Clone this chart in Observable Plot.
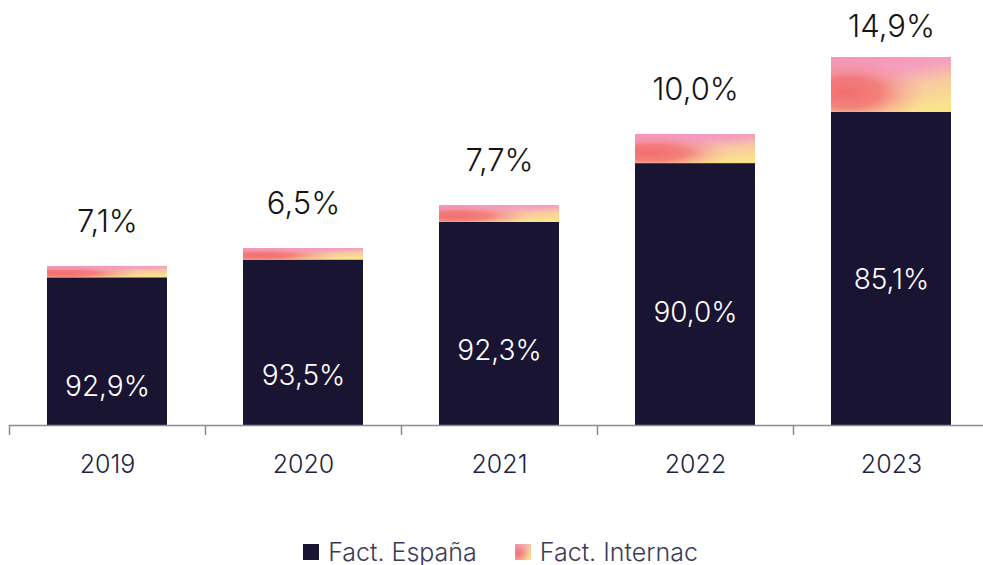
<!DOCTYPE html>
<html>
<head>
<meta charset="utf-8">
<script src="https://cdn.jsdelivr.net/npm/d3@7"></script>
<script src="https://cdn.jsdelivr.net/npm/@observablehq/plot@0.6"></script>
<style>
  html, body { margin: 0; padding: 0; background: #fff; overflow: hidden; }
  body { font-family: Inter, "Noto Sans", sans-serif; width: 983px; height: 565px; }
  #chart svg { display: block; }
  #legend { display: flex; justify-content: center; align-items: center; height: 35px;
            font-size: 25px; font-weight: 350; color: #3d3a5a; padding-left: 18px; position: relative; top: 4px; }
  #legend .item { display: flex; align-items: center; margin: 0 19px; }
  #legend .sw { width: 16px; height: 16px; margin-right: 9px; display: inline-block; }
</style>
</head>
<body>
<div id="chart"></div>
<div id="legend"></div>
<script>
// ---- data ----
const years = ["2019", "2020", "2021", "2022", "2023"];
// total invoicing, relative units (bar heights)
const totals = [159, 177, 220, 291, 368];
const espanaPct = [92.9, 93.5, 92.3, 90.0, 85.1];
const internacPct = [7.1, 6.5, 7.7, 10.0, 14.9];
const seriesNames = ["Fact. España", "Fact. Internac"];

// ---- layout ----
const W = 983, H = 530, mTop = 57, mBottom = 105, mLeft = 9, mRight = 0;
const bandSpan = 980;
const step = bandSpan / years.length;
const maxTotal = d3.max(totals);
const k = (H - mBottom - mTop) / maxTotal; // px per unit

const rows = years.map((year, i) => ({
  year,
  total: totals[i],
  espana: totals[i] * espanaPct[i] / 100,
  internac: totals[i] * internacPct[i] / 100,
  pE: espanaPct[i],
  pI: internacPct[i]
}));
const fmt = v => v.toFixed(1).replace(".", ",") + "%";

const plot = Plot.plot({
  width: W, height: H,
  marginTop: mTop, marginBottom: mBottom, marginLeft: mLeft, marginRight: mRight,
  style: { fontFamily: "Inter, 'Noto Sans', sans-serif", background: "#fff", overflow: "visible" },
  x: { domain: years, range: [mLeft, mLeft + bandSpan], paddingInner: 0.39, paddingOuter: 0.195, axis: null },
  y: { domain: [0, maxTotal], axis: null },
  marks: [
    Plot.barY(rows, { x: "year", y1: 0, y2: "espana", fill: "#1a1433" }),
    Plot.barY(rows, { x: "year", y1: "espana", y2: d => d.espana + d.internac, fill: "url(#intBase)" }),
    Plot.barY(rows, { x: "year", y1: "espana", y2: d => d.espana + d.internac, fill: "url(#intGlow)" }),
    Plot.ruleY([0], { stroke: "#8c8a9b", strokeWidth: 1.5 }),
    Plot.ruleX(years, { x: d => d, y1: 0, y2: -10 / k, dx: -step / 2, stroke: "#8c8a9b", strokeWidth: 1.5 }),
    Plot.text(years, { x: d => d, y: 0, dy: 39, text: d => d, fontSize: 25, fontWeight: 350, fill: "#231f42", lineAnchor: "middle" }),
    Plot.text(rows, {
      x: "year",
      y: d => Math.min(d.total + 44 / k, (H - mBottom - 26.5) / k),
      text: d => fmt(d.pI), fontSize: 31, fontWeight: 350, fill: "#141414", lineAnchor: "middle"
    }),
    Plot.text(rows, {
      x: "year",
      y: d => 0.65 * d.espana - 58 / k,
      text: d => fmt(d.pE), fontSize: 28, fontWeight: 350, fill: "#ffffff", lineAnchor: "middle"
    })
  ]
});

const defs = d3.select(plot).insert("defs", ":first-child");
defs.html(`
  <linearGradient id="intBase" x1="0.3" y1="0" x2="0.75" y2="1">
    <stop offset="0" stop-color="#f497bb"/>
    <stop offset="0.3" stop-color="#f5a0bd"/>
    <stop offset="0.6" stop-color="#f8cba0"/>
    <stop offset="1" stop-color="#fae48a"/>
  </linearGradient>
  <radialGradient id="intGlow" cx="0.18" cy="0.65" r="0.6" fx="0.12" fy="0.65">
    <stop offset="0" stop-color="#f26e6e" stop-opacity="1"/>
    <stop offset="0.45" stop-color="#f27474" stop-opacity="0.85"/>
    <stop offset="0.75" stop-color="#f38a8a" stop-opacity="0.35"/>
    <stop offset="1" stop-color="#f49090" stop-opacity="0"/>
  </radialGradient>
`);
document.getElementById("chart").appendChild(plot);

// ---- legend ----
const swatches = [
  "#1a1433",
  "radial-gradient(circle at 20% 60%, rgba(242,108,108,0.95), rgba(242,114,114,0) 70%), linear-gradient(135deg, #f49ac0, #f7c4a4 55%, #fae48a)"
];
const legend = d3.select("#legend");
seriesNames.forEach((name, i) => {
  const item = legend.append("div").attr("class", "item");
  item.append("span").attr("class", "sw").style("background", swatches[i]);
  item.append("span").text(name);
});
</script>
</body>
</html>
